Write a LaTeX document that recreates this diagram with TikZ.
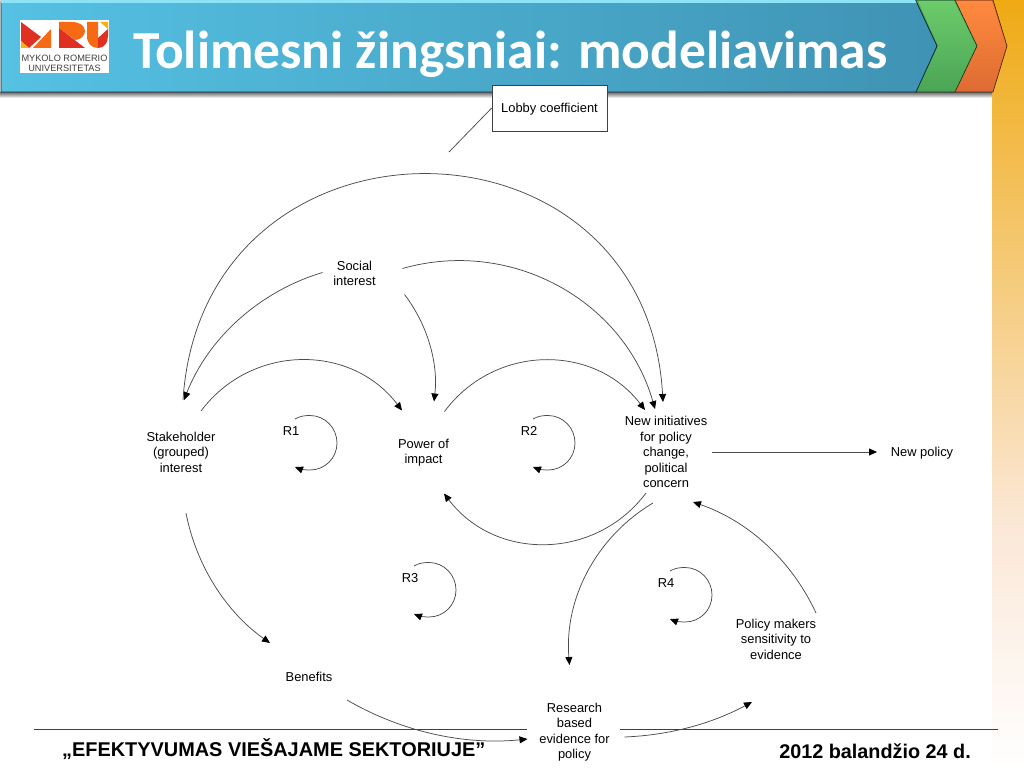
\documentclass[tikz,border=0pt]{standalone}
\usepackage{fontspec}
\setmainfont{Liberation Sans}
\newfontfamily\titlefont{Carlito}
\usetikzlibrary{arrows.meta,calc,shadings}
\definecolor{barL}{HTML}{55C1E3}
\definecolor{barR}{HTML}{3F93B4}
\definecolor{barTop}{HTML}{8BE3F5}
\definecolor{grnT}{HTML}{6CCB6A}
\definecolor{grnB}{HTML}{4BA556}
\definecolor{orT}{HTML}{FF8A3E}
\definecolor{orB}{HTML}{DE6B33}
\definecolor{yelT}{HTML}{EFAA14}
\definecolor{yelM}{HTML}{FBE8D8}
\definecolor{logoR}{HTML}{E03022}
\definecolor{logoO}{HTML}{F66A14}
\definecolor{logoY}{HTML}{F8B013}
\tikzset{
  lbl/.style={font=\fontsize{12.9}{15.5}\selectfont,align=center,inner sep=0pt},
  link/.style={draw=black!70,line width=0.75pt,-{Triangle[length=8pt,width=7pt,black]}},
  plainlink/.style={draw=black!70,line width=0.75pt},
  foot/.style={draw=black!75,line width=1pt},
  loopmark/.style={font=\fontsize{12.9}{15}\selectfont,inner sep=0pt}
}
\newcommand{\looparrow}[1]{%
  \draw[link] ($(#1)+(4,-12)$) .. controls ($(#1)+(9,-15)$) and ($(#1)+(14,-15.5)$) .. ($(#1)+(19,-15.5)$)
    .. controls ($(#1)+(34,-15.5)$) and ($(#1)+(46,-3)$) .. ($(#1)+(46,12)$)
    .. controls ($(#1)+(46,27)$) and ($(#1)+(34,39)$) .. ($(#1)+(19,39)$)
    .. controls ($(#1)+(14,39)$) and ($(#1)+(9,38)$) .. ($(#1)+(4,36)$);}
\begin{document}
\begin{tikzpicture}[x=1pt,y=-1pt]
\useasboundingbox (0,0) rectangle (1024,768);
% side band
\shade[top color=yelT,bottom color=yelM] (992,0) rectangle (1024,530);
\shade[top color=yelM,bottom color=white] (992,530) rectangle (1024,768);
% header shadow
\shade[top color=black!60,bottom color=white] (0,92) rectangle (992,98);
% header arrows
\fill[orB,draw=black!70!orB,line width=.6pt] (950,0) -- (993,0) -- (1007,46) -- (993,92) -- (950,92) -- (964,46) -- cycle;
\shade[top color=orT,bottom color=orB] (955,1) -- (992,1) -- (1006,46) -- (992,91) -- (955,91) -- (970,46) -- cycle;
\fill[grnB,draw=black!70!grnB,line width=.6pt] (915,0) -- (955,0) -- (977,46) -- (955,92) -- (915,92) -- (937,46) -- cycle;
\shade[top color=grnT,bottom color=grnB] (918,1) -- (954,1) -- (976,46) -- (954,91) -- (918,91) -- (938,46) -- cycle;
\shade[left color=barL,right color=barR,draw=black!70!barR,line width=.8pt] (1,1) -- (916,1) -- (937,46) -- (916,92) -- (1,92) -- cycle;
\fill[barTop] (1,0) -- (915,0) -- (916.5,3) -- (1,3) -- cycle;
% logo
\fill[white] (20,20) rectangle (109,73);
\fill[logoR] (21,22) -- (41,37) -- (29,48) -- (21,41) -- cycle;
\fill[logoY] (21,41) -- (29,48) -- (21,48) -- cycle;
\fill[logoO] (33,48) -- (51,29) -- (51,48) -- cycle;
\fill[logoO] (59,22) -- (72,22) .. controls (80,22) and (85,26) .. (85,31) .. controls (85,36) and (80,40) .. (75,40) -- (59,28) -- cycle;
\fill[logoR] (59,28) -- (85,48) -- (59,48) -- cycle;
\fill[logoO] (87,22) -- (98,22) -- (98,48) .. controls (92,48) and (87,44) .. (87,36) -- cycle;
\fill[logoR] (98,38) -- (108,29) -- (108,36) .. controls (108,43) and (104,48) .. (98,48) -- cycle;
\fill[logoY] (100,22) -- (108,22) -- (108,29) -- cycle;
\node[inner sep=0pt,font=\fontsize{9.2}{10}\selectfont,align=center,text=black!75] (logotext) at (64.5,63) {MYKOLO ROMERIO\\UNIVERSITETAS};
\node[inner sep=0pt,anchor=base west,text=white,font=\titlefont\bfseries\fontsize{53.5}{56}\selectfont] (title) at (133,68) {Tolimesni žingsniai: modeliavimas};
% footer
\coordinate (fa) at (34,729); \coordinate (fb) at (527,729);
\coordinate (fc) at (620,729); \coordinate (fd) at (998,729);
\draw[foot] (fa) -- (fb);
\draw[foot] (fc) -- (fd);
\node[inner sep=0pt,anchor=west,font=\bfseries\fontsize{19.9}{20}\selectfont] (footl) at (62,749) {„EFEKTYVUMAS VIEŠAJAME SEKTORIUJE”};
\node[inner sep=0pt,anchor=east,font=\bfseries\fontsize{19.8}{20}\selectfont] (footr) at (971,751) {2012 balandžio 24 d.};
% lobby
\node[draw=black!75,line width=.6pt,fill=white,minimum width=115pt,minimum height=46pt,inner sep=0pt,text height=9.6pt,text depth=0pt,font=\fontsize{12.9}{15}\selectfont] (lobby) at (549.5,108) {Lobby coefficient};
\coordinate (lobbyend) at (449,152);
\draw[plainlink] (lobby.west) -- (lobbyend);
% nodes
\node[lbl] (social) at (354.5,273.5) {Social\\interest};
\node[lbl] (stake) at (181,452) {Stakeholder\\(grouped)\\interest};
\node[lbl] (power) at (423.5,452.5) {Power of\\impact};
\node[lbl] (newinit) at (666,452) {New initiatives\\for policy\\change,\\political\\concern};
\node[lbl] (newpol) at (922,453.5) {New policy};
\node[lbl] (benefits) at (309,677) {Benefits};
\node[lbl] (research) at (574.5,732) {Research\\based\\evidence for\\policy};
\node[lbl] (makers) at (776,639) {Policy makers\\sensitivity to\\evidence};
\node[loopmark] (r1) at (291,431) {R1};
\node[loopmark] (r2) at (529,431) {R2};
\node[loopmark] (r3) at (410,578) {R3};
\node[loopmark] (r4) at (666,583) {R4};
% connectors
\draw[link] ($(stake)+(20,-41)$) to[bend left=53,looseness=1.07] ($(power)+(-21.5,-42)$);
\draw[link] ($(social)+(-32,-1)$) to[bend right=26,looseness=.9] ($(stake)+(3,-52)$);
\draw[link] ($(stake)+(2,-52)$) to[bend left=86.5,looseness=1.61] ($(newinit)+(-3,-50)$);
\draw[link] ($(social)+(48,-5)$) to[bend left=45,looseness=1] ($(newinit)+(-11,-43)$);
\draw[link] ($(social)+(50,21)$) to[bend left=22,looseness=.88] ($(power)+(10.5,-51)$);
\draw[link] ($(power)+(21,-41)$) to[bend left=53,looseness=1.07] ($(newinit)+(-21,-42)$);
\draw[link] ($(newinit)+(-20,41)$) to[bend left=53,looseness=1.07] ($(power)+(20.5,41)$);
\draw[link] ($(newinit)+(-13,51)$) to[bend right=32,looseness=.93] ($(research)+(-5,-67)$);
\draw[link] ($(makers)+(40,-26)$) to[bend right=23,looseness=.9] ($(newinit)+(27,50)$);
\draw[link] ($(newinit)+(46,0)$) -- ($(newpol)+(-45,-1.5)$);
\draw[link] ($(stake)+(5,61)$) to[bend right=22,looseness=.88] ($(benefits)+(-39,-34)$);
\draw[link] ($(benefits)+(38,23)$) to[bend right=18,looseness=.88] ($(research)+(-47,7)$);
\draw[link] ($(research)+(50,5)$) to[bend right=13,looseness=.88] ($(makers)+(-24,63)$);
% loops
\looparrow{r1}
\looparrow{r2}
\looparrow{r3}
\looparrow{r4}
\end{tikzpicture}
\end{document}
